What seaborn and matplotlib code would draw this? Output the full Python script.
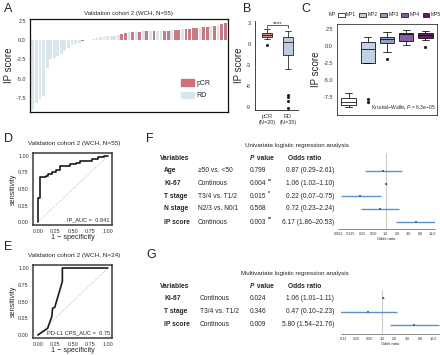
import matplotlib
matplotlib.use('Agg')
import pandas as pd
import seaborn as sns
import matplotlib.pyplot as plt
from matplotlib.patches import Patch

sns.set_style('white')
plt.rcParams['font.family'] = ['Liberation Sans', 'DejaVu Sans']
plt.rcParams['mathtext.fontset'] = 'custom'
plt.rcParams['mathtext.rm'] = 'Liberation Sans'
plt.rcParams['mathtext.it'] = 'Liberation Sans:italic'
plt.rcParams['mathtext.bf'] = 'Liberation Sans:bold'
plt.rcParams['axes.unicode_minus'] = False

# ---- data ----
# A / B: IP score per patient, sorted
a_values = [-9.1, -8.1, -7.6, -7.2, -3.6, -2.4, -2.3, -2.1, -1.8, -1.4, -1.0, -0.7, -0.5, -0.35,
            -0.15,
            -0.05, 0.05, 0.15, 0.3, 0.35, 0.4, 0.45, 0.5, 0.55, 0.65,
            0.8, 0.9, 1.0, 1.0, 1.05, 1.05, 1.1, 1.1, 1.1, 1.15, 1.15, 1.2, 1.2, 1.2, 1.25,
            1.3, 1.3, 1.35, 1.4, 1.45, 1.5, 1.55, 1.6, 1.65, 1.7, 1.8, 1.85, 1.9, 2.0, 2.15]
a_group = (['RD'] * 14 + ['pCR'] + ['RD'] * 10 +
           ['pCR', 'pCR', 'RD', 'pCR', 'RD', 'pCR', 'RD', 'pCR', 'RD', 'pCR',
            'RD', 'RD', 'pCR', 'pCR', 'RD', 'pCR', 'pCR', 'RD', 'pCR', 'pCR',
            'pCR', 'pCR', 'RD', 'pCR', 'pCR', 'RD', 'pCR', 'RD', 'pCR', 'pCR'])
b_labels = ['pCR\n(N=20)', 'RD\n(N=35)']

# C: IP score by MP
mp_names = ['MP1', 'MP2', 'MP3', 'MP4', 'MP5']
mp1 = [-9.0, -8.7, -8.7, -8.4, -8.2, -8.0, -7.6, -7.3, -6.9]
mp2 = [-8.2, -7.8, -2.5, -2.5, -1.5, -0.4, 0.2, 0.6, 0.6, 1.0, 1.3]
mp3 = [-1.9, -0.9, 0.4, 0.7, 1.0, 1.1, 1.3, 1.6, 2.0]
mp4 = [0.1, 0.5, 0.7, 1.2, 1.7, 1.8, 1.9, 2.1, 2.3]
mp5 = [-0.1, 0.9, 1.2, 1.4, 1.6, 1.7, 1.9, 2.0, 2.2]
mp_colors = ['#ffffff', '#bcd2ea', '#8e9ccd', '#8a55a6', '#6e1468']

# D / E: ROC curves
d_fpr = [0, 0, 0.03, 0.03, 0.11, 0.11, 0.15, 0.15, 0.2, 0.2, 0.26, 0.26, 0.31, 0.31, 0.46, 0.46,
         0.54, 0.54, 0.6, 0.6, 0.77, 0.77, 0.86, 0.86, 0.94, 0.94, 1.0]
d_tpr = [0, 0.37, 0.37, 0.68, 0.68, 0.70, 0.70, 0.72, 0.72, 0.75, 0.75, 0.79, 0.79, 0.85, 0.85, 0.88,
         0.88, 0.90, 0.90, 0.93, 0.93, 0.95, 0.95, 0.98, 0.98, 1.0, 1.0]
e_fpr = [0, 0.14, 0.2, 0.21, 0.24, 0.35, 0.35, 1.0]
e_tpr = [0, 0.1, 0.28, 0.4, 0.41, 0.8, 1.0, 1.0]

# F: univariate
f_vars = ['Age', 'Ki-67', 'T stage', 'N stage', 'IP score']
f_levels = ['≥50 vs. <50', 'Continous', 'T3/4 vs. T1/2', 'N2/3 vs. N0/1', 'Continous']
f_p = ['0.799', '0.004', '0.015', '0.568', '0.003']
f_stars = ['', '**', '*', '', '**']
f_or = [0.87, 1.06, 0.22, 0.72, 6.17]
f_lo = [0.29, 1.02, 0.07, 0.23, 1.86]
f_hi = [2.61, 1.10, 0.75, 2.24, 20.53]
f_ticks = [0.0625, 0.125, 0.25, 0.5, 1, 2, 4, 8, 16]
f_ticklabels = ['0.062', '0.125', '0.25', '0.50', '1.0', '2.0', '4.0', '8.0', '16.0']

# G: multivariate
g_vars = ['Ki-67', 'T stage', 'IP score']
g_levels = ['Continous', 'T3/4 vs. T1/2', 'Continous']
g_p = ['0.024', '0.346', '0.009']
g_or = [1.06, 0.47, 5.80]
g_lo = [1.01, 0.10, 1.54]
g_hi = [1.11, 2.23, 21.76]
g_ticks = [0.125, 0.25, 0.5, 1, 2, 4, 8, 16]
g_ticklabels = ['0.12', '0.25', '0.50', '1.0', '2.0', '4.0', '8.0', '16.0']

c_pcr = '#d26f7b'
c_rd = '#d6e8ef'

W, H = 440, 355
fig = plt.figure(figsize=(W / 100, H / 100), dpi=100)


def rect(x0, y0, x1, y1):
    return [x0 / W, 1 - y1 / H, (x1 - x0) / W, (y1 - y0) / H]


def ftext(x, y, s, **kw):
    kw.setdefault('va', 'center')
    fig.text(x / W, 1 - y / H, s, **kw)


def style_ticks(ax, size=4):
    ax.tick_params(axis='both', length=2, width=0.5, pad=1, labelsize=size, colors='#333333')


# panel letters
for letter, x, y in [('A', 4, 9), ('B', 243, 9), ('C', 301, 9), ('D', 4, 139),
                     ('E', 4, 247), ('F', 146, 139), ('G', 146, 255)]:
    ftext(x, y, letter, fontsize=9)

# ---- A: waterfall ----
dfa = pd.DataFrame({'idx': range(len(a_values)), 'score': a_values, 'group': a_group})
axA = fig.add_axes(rect(30, 19, 228, 112))
sns.barplot(data=dfa, x='idx', y='score', hue='group', palette={'pCR': c_pcr, 'RD': c_rd},
            dodge=False, width=0.8, linewidth=0, legend=False, ax=axA)
axA.set_xlim(-0.8, len(a_values) - 0.2)
axA.set_ylim(-9.3, 2.7)
axA.set_xticks([])
axA.set_xlabel('')
axA.set_yticks([2.5, 0, -2.5, -5, -7.5])
axA.set_yticklabels(['2.5', '0.0', '-2.5', '-5.0', '-7.5'])
axA.set_ylabel('IP score', fontsize=7, labelpad=2)
style_ticks(axA)
for s in axA.spines.values():
    s.set_linewidth(0.9)
    s.set_color('#111111')
axA.set_title('Validation cohort 2 (WCH, N=55)', fontsize=4.4, pad=3)
axA.legend(handles=[Patch(color=c_pcr, label='pCR'), Patch(color=c_rd, label='RD')],
           loc='upper left', bbox_to_anchor=(181 / W, 1 - 79 / H), bbox_transform=fig.transFigure,
           frameon=False, fontsize=5, handlelength=1.8, handleheight=1.1, labelspacing=0.7,
           handletextpad=0.4, borderpad=0, borderaxespad=0)

# ---- B: boxplot pCR vs RD ----
axB = fig.add_axes(rect(255, 21, 298, 110))
sns.boxplot(data=dfa, x='group', y='score', order=['pCR', 'RD'], hue='group',
            palette={'pCR': '#e8816c', 'RD': '#b9cbe6'}, width=0.5, linewidth=0.5,
            linecolor='black', fliersize=1.2, legend=False, ax=axB,
            flierprops=dict(marker='o', markerfacecolor='#222222', markeredgecolor='#222222'))
axB.set_xlim(-0.57, 1.48)
axB.set_ylim(-9.4, 3.3)
axB.set_yticks([3, 0, -3, -6, -9])
axB.set_xticks([0, 1])
axB.set_xticklabels(b_labels, fontsize=4.2, linespacing=1.1)
axB.set_xlabel('')
axB.set_ylabel('IP score', fontsize=7, labelpad=1)
style_ticks(axB)
sns.despine(ax=axB)
for s in ['left', 'bottom']:
    axB.spines[s].set_linewidth(0.6)
    axB.spines[s].set_color('#222222')
axB.plot([0, 0, 1, 1], [2.35, 2.7, 2.7, 2.35], color='#222222', lw=0.5)
axB.text(0.5, 2.65, '****', ha='center', va='bottom', fontsize=4.5)

# ---- C: boxplot by MP ----
dfc = pd.DataFrame({'MP': sum([[n] * len(v) for n, v in zip(mp_names, [mp1, mp2, mp3, mp4, mp5])], []),
                    'score': mp1 + mp2 + mp3 + mp4 + mp5})
axC = fig.add_axes(rect(337, 24, 437, 115))
sns.boxplot(data=dfc, x='MP', y='score', hue='MP', order=mp_names, hue_order=mp_names,
            palette=dict(zip(mp_names, mp_colors)), width=0.74, linewidth=0.55,
            linecolor='black', fliersize=1.3, legend=False, ax=axC,
            flierprops=dict(marker='o', markerfacecolor='#222222', markeredgecolor='#222222'))
axC.set_xlim(-0.6, 4.6)
axC.set_ylim(-10.15, 3.24)
axC.set_yticks([2.5, 0, -2.5, -5, -7.5])
axC.set_yticklabels(['2.5', '0.0', '-2.5', '-5.0', '-7.5'])
axC.set_xticks([])
axC.set_xlabel('')
axC.set_ylabel('IP score', fontsize=7, labelpad=2)
style_ticks(axC)
for s in axC.spines.values():
    s.set_linewidth(0.6)
    s.set_color('#333333')
axC.text(0.985, 0.03, 'Kruskal\u2212Wallis, $\\it{P}$ = 6.3e\u221205', transform=axC.transAxes,
         ha='right', va='bottom', fontsize=3.6)
ftext(329, 15, 'MP', fontsize=3.6)
fig.legend(handles=[Patch(facecolor=c, edgecolor='black', linewidth=0.5, label=n)
                    for n, c in zip(mp_names, mp_colors)],
           loc='center left', bbox_to_anchor=(338 / W, 1 - 15 / H), ncol=5, frameon=False,
           fontsize=3.6, handlelength=1.3, handleheight=1.0, handletextpad=0.3,
           columnspacing=0.6, borderpad=0, borderaxespad=0)


# ---- D / E: ROC ----
def roc_panel(box, fpr, tpr, title, label, title_y):
    ax = fig.add_axes(rect(*box))
    ax.plot([0, 1], [0, 1], color='#aaaaaa', lw=0.6, ls=(0, (1, 1.5)))
    sns.lineplot(x=fpr, y=tpr, sort=False, estimator=None, color='#1a1a1a', lw=1.2, ax=ax)
    ax.set_xlim(-0.07, 1.06)
    ax.set_ylim(-0.045, 1.045)
    ticks = [0, 0.25, 0.5, 0.75, 1]
    ax.set_xticks(ticks)
    ax.set_yticks(ticks)
    ax.set_xticklabels(['0.00', '0.25', '0.50', '0.75', '1.00'])
    ax.set_yticklabels(['0.00', '0.25', '0.50', '0.75', '1.00'])
    style_ticks(ax, 3.9)
    ax.set_xlabel('1 \u2212 specificity', fontsize=5.2, labelpad=0)
    ax.set_ylabel('sensitivity', fontsize=5.2, labelpad=1)
    for s in ax.spines.values():
        s.set_linewidth(1.1)
        s.set_color('#3a3a3a')
    ax.text(0.97, 0.04, label, transform=ax.transAxes, ha='right', va='bottom', fontsize=4.1)
    ftext((box[0] + box[2]) / 2 + 2, title_y, title, fontsize=4.6, ha='center')
    return ax


roc_panel((33, 153, 112, 225), d_fpr, d_tpr, 'Validation cohort 2 (WCH, N=55)', 'IP_AUC =  0.841', 144)
roc_panel((33, 265, 112, 338), e_fpr, e_tpr, 'Validation cohort 2 (WCH, N=24)', 'PD-L1 CPS_AUC =  0.75', 256)


# ---- F / G: forest tables ----
def forest_panel(box, ylim, xlim, ors, los, his, ticks, ticklabels):
    ax = fig.add_axes(rect(*box))
    rows = list(range(len(ors)))
    ax.axvline(1, color='#cccccc', lw=0.8, zorder=0)
    ax.hlines(rows, los, his, color='#5b8fd2', lw=1.0, zorder=2)
    sns.scatterplot(x=ors, y=rows, marker='s', s=3.5, color='#3a6db5', linewidth=0, ax=ax, zorder=3)
    ax.set_xscale('log', base=2)
    ax.set_xlim(*xlim)
    ax.set_ylim(*ylim)
    ax.set_xticks(ticks)
    ax.set_xticklabels(ticklabels)
    ax.minorticks_off()
    ax.set_yticks([])
    ax.tick_params(axis='x', length=1.5, width=0.4, pad=1, labelsize=2.7, colors='#333333')
    ax.set_xlabel('Odds ratio', fontsize=2.9, labelpad=0.5)
    sns.despine(ax=ax, left=True)
    ax.spines['bottom'].set_linewidth(0.4)
    ax.spines['bottom'].set_color('#333333')
    ax.patch.set_alpha(0)
    return ax


def table(rows_y, header_y, variables, levels, pvals, stars, ors, los, his, lv_x):
    fs = 4.8
    ftext(160, header_y, 'Variables', fontsize=fs, fontweight='bold')
    ftext(250, header_y, 'P', fontsize=fs, fontweight='bold', style='italic')
    ftext(254.5, header_y, ' value', fontsize=fs, fontweight='bold')
    ftext(305, header_y, 'Odds ratio', fontsize=fs, fontweight='bold', ha='center')
    for y, v, lv, p, st, o, lo, hi in zip(rows_y, variables, levels, pvals, stars, ors, los, his):
        ftext(164, y, v, fontsize=fs, fontweight='bold')
        ftext(lv_x, y, lv, fontsize=fs)
        ftext(250, y, p, fontsize=fs)
        if st:
            ftext(268, y - 2.5, st, fontsize=3.8, fontweight='bold')
        ftext(334, y, f'{o:.2f} ({lo:.2f}\u2013{hi:.2f})', fontsize=fs, ha='right')


ftext(297, 145, 'Univariate logistic regression analysis', fontsize=4.5, ha='center')
table([171, 183.5, 196, 208.5, 222], 158, f_vars, f_levels, f_p, f_stars, f_or, f_lo, f_hi, 198)
forest_panel((338, 153, 435, 229), (4.55, -1.41), (2 ** -4.09, 2 ** 4.26),
             f_or, f_lo, f_hi, f_ticks, f_ticklabels)

ftext(295, 273, 'Multivariate logistic regression analysis', fontsize=4.5, ha='center')
table([298, 311.5, 325], 286, g_vars, g_levels, g_p, [''] * 3, g_or, g_lo, g_hi, 200)
forest_panel((341, 290, 440, 334), (2.67, -0.6), (2 ** -3.24, 2 ** 4.55),
             g_or, g_lo, g_hi, g_ticks, g_ticklabels)

fig.savefig('out.png', dpi=100)
